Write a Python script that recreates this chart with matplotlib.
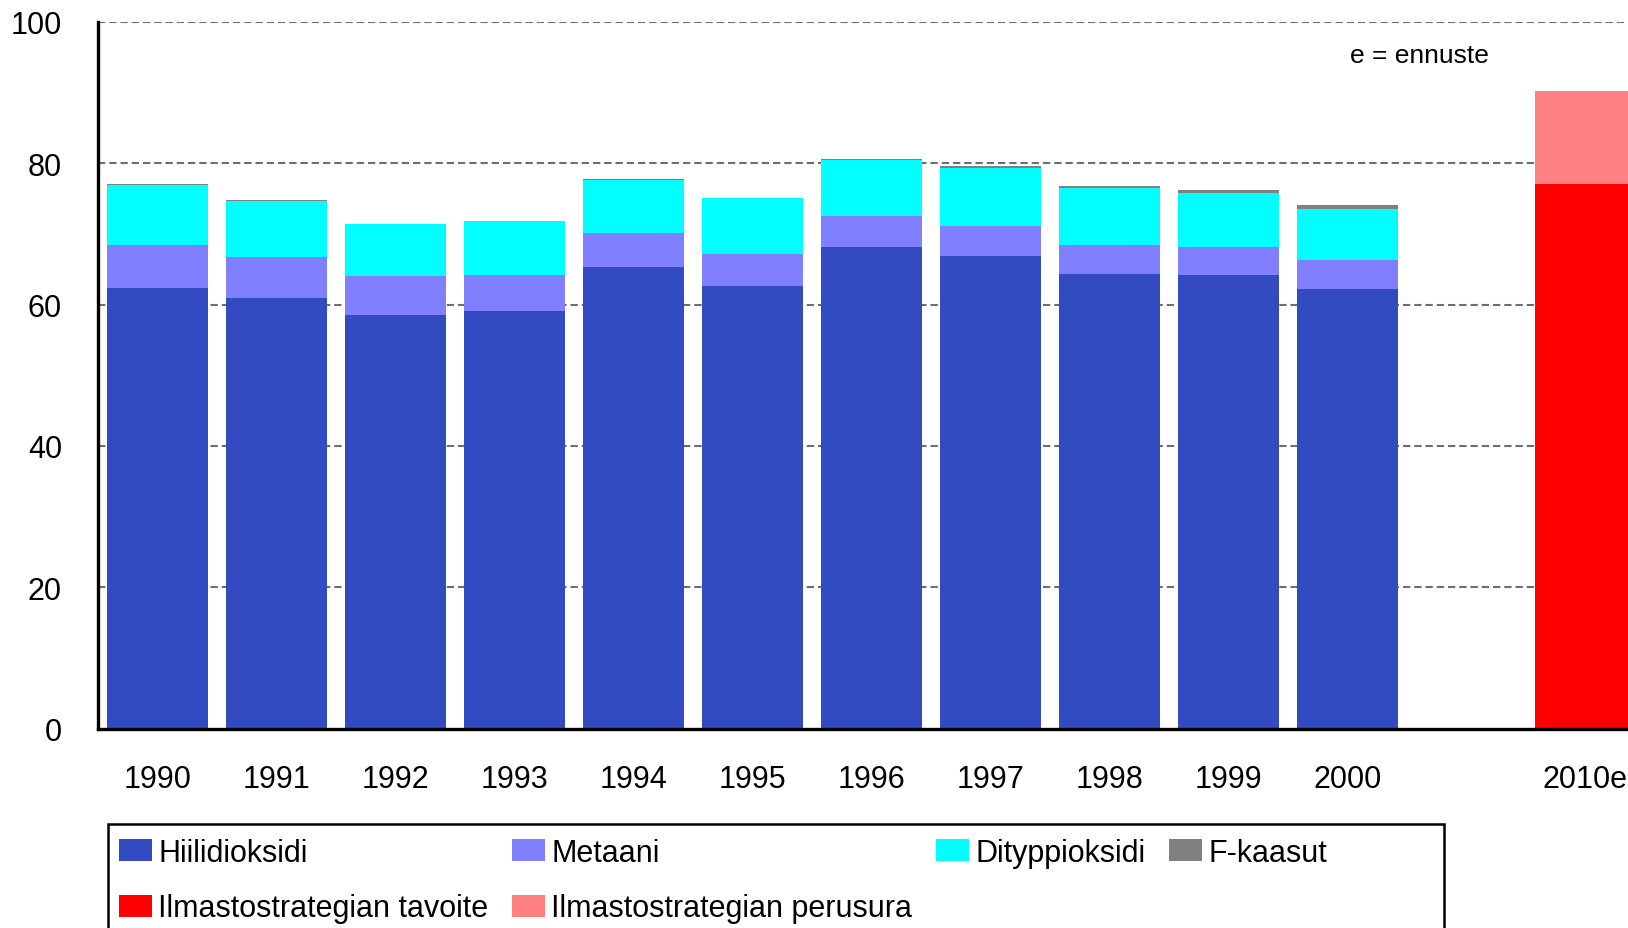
import matplotlib
matplotlib.use("Agg")
import matplotlib.pyplot as plt
from matplotlib.patches import Patch, Rectangle
import numpy as np

plt.rcParams['font.family'] = ['Liberation Sans', 'DejaVu Sans']

years = ["1990", "1991", "1992", "1993", "1994", "1995", "1996", "1997", "1998", "1999", "2000"]
co2 = [62.3, 60.9, 58.5, 59.1, 65.3, 62.7, 68.1, 66.9, 64.4, 64.2, 62.2]
ch4 = [6.2, 5.85, 5.55, 5.15, 4.8, 4.5, 4.4, 4.25, 4.1, 3.95, 4.1]
n2o = [8.4, 7.9, 7.3, 7.6, 7.6, 7.9, 7.9, 8.2, 7.95, 7.65, 7.2]
fgas = [0.15, 0.14, 0.05, 0.05, 0.05, 0.05, 0.14, 0.3, 0.28, 0.42, 0.55]

label_2010 = "2010e"
target_2010 = 77.0
baseline_extra_2010 = 13.2

yticks = [0, 20, 40, 60, 80, 100]

series_labels = ["Hiilidioksidi", "Metaani", "Dityppioksidi", "F-kaasut",
                 "Ilmastostrategian tavoite", "Ilmastostrategian perusura"]
colors = ["#334BC0", "#8080FF", "#00FFFF", "#808080", "#FF0000", "#FF8080"]

W, H = 1628, 929
fig = plt.figure(figsize=(W / 100, H / 100), dpi=100)
ax = fig.add_axes([98 / W, (H - 729.5) / H, 1547 / W, (729.5 - 23) / H])

x = np.arange(len(years))
bw = 0.857
b1 = np.array(co2)
b2 = b1 + np.array(ch4)
b3 = b2 + np.array(n2o)
ax.bar(x, co2, bw, color=colors[0], zorder=2)
ax.bar(x, ch4, bw, bottom=b1, color=colors[1], zorder=2)
ax.bar(x, n2o, bw, bottom=b2, color=colors[2], zorder=2)
ax.bar(x, fgas, bw, bottom=b3, color=colors[3], zorder=2)

x2010 = len(years) + 1
ax.bar([x2010], [target_2010], bw, color=colors[4], zorder=2)
ax.bar([x2010], [baseline_extra_2010], bw, bottom=[target_2010], color=colors[5], zorder=2)

ax.set_xlim(-0.5, x2010 + 0.5)
ax.set_ylim(0, 100)
ax.set_yticks(yticks)
ax.set_yticklabels([str(v) for v in yticks])
ax.set_xticks(list(x) + [x2010])
ax.set_xticklabels(years + [label_2010])
ax.tick_params(axis='both', length=0, labelsize=22)
ax.tick_params(axis='y', pad=26)
ax.tick_params(axis='x', pad=25.5)

for v in yticks[1:]:
    ax.axhline(v, color="#6e6e6e", lw=1.5, ls=(0, (3.5, 1.9)), zorder=1)

for s in ["top", "right"]:
    ax.spines[s].set_visible(False)
ax.spines["left"].set_linewidth(2.4)
ax.spines["bottom"].set_linewidth(2.4)
ax.spines["left"].set_zorder(3)
ax.spines["bottom"].set_zorder(3)

fig.text(1419 / W, 1 - 56 / H, "e = ennuste", ha="center", va="center", fontsize=19)

handles = [Patch(facecolor=c, edgecolor='none') for c in colors]
order = [0, 4, 1, 5, 2, 3]
leg = fig.legend([handles[i] for i in order], [series_labels[i] for i in order],
                 ncol=4, loc="upper left", bbox_to_anchor=(119 / W, 1 - 839 / H),
                 bbox_transform=fig.transFigure, frameon=False, fontsize=22,
                 handlelength=1.08, handleheight=0.72, handletextpad=0.2,
                 columnspacing=0.78, labelspacing=0.83, borderpad=0, borderaxespad=0)

fig.patches.append(Rectangle((108 / W, -0.1), (1444 - 108) / W, (H - 825) / H + 0.1,
                             transform=fig.transFigure, fill=False,
                             edgecolor="black", lw=1.8, figure=fig))

fig.savefig("out.png", dpi=100)
